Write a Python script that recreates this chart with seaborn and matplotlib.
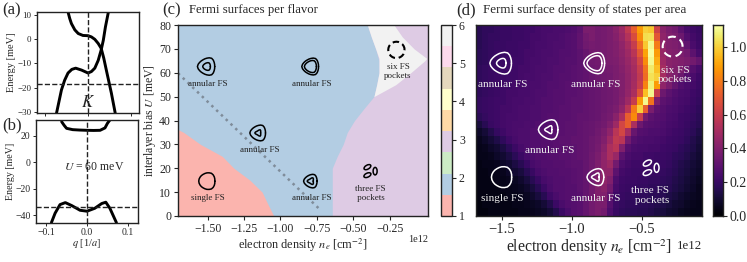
import numpy as np
import pandas as pd
import matplotlib
matplotlib.use("Agg")
import matplotlib.pyplot as plt
import matplotlib.patches as mp
from matplotlib.cm import ScalarMappable
from matplotlib.colors import ListedColormap, Normalize
import seaborn as sns

# -----------------------------------------------------------------------
# band structures, panels a and b
q_a_up = [-0.047, -0.043, -0.039, -0.031, -0.023, -0.012, 0, 0.008, 0.016, 0.024, 0.031, 0.037, 0.043, 0.055, 0.064]
E_a_up = [11.2, 8.5, 6.4, 3.8, 2.3, 1.5, 1.4, 0.9, -0.1, -1.8, -3.8, -7.8, -12.7, -22.3, -30.5]
q_a_low = [-0.074, -0.0625, -0.055, -0.047, -0.038, -0.029, -0.015, 0, 0.008, 0.016, 0.024, 0.031, 0.036, 0.041, 0.048]
E_a_low = [-30.5, -21, -17, -14, -12.5, -12, -12.8, -14, -13.4, -12, -8.8, -4.5, -0.5, 5, 11.2]
q_b_up = [-0.062, -0.056, -0.05, -0.035, -0.018, 0, 0.016, 0.032, 0.044, 0.05, 0.056]
E_b_up = [30.7, 28, 25.7, 24.7, 24.4, 24.2, 24.1, 24.2, 26, 29.5, 32]
q_b_low = [-0.087, -0.078, -0.066, -0.053, -0.037, -0.017, 0, 0.019, 0.036, 0.046, 0.056, 0.072]
E_b_low = [-45.6, -38.5, -32, -30.5, -32.8, -36.3, -37, -34.8, -31.2, -30.2, -34.8, -45.7]

# region edges of panel c, density in 1e12 cm^-2 for each bias U
U_red = [0, 5, 10, 15, 20, 25, 30, 35, 36.2]
ne_red = [-1.046, -1.087, -1.126, -1.21, -1.32, -1.40, -1.55, -1.665, -1.704]
U_blue = [0, 5, 10, 15, 20, 25, 30, 35, 40, 45, 50, 55, 60, 65, 70, 75, 80]
ne_blue = [-0.644, -0.644, -0.644, -0.644, -0.644, -0.610, -0.569, -0.541, -0.491, -0.426, -0.358,
           -0.339, -0.323, -0.323, -0.346, -0.376, -0.403]
U_six = [50, 55, 60, 65, 66, 70, 75, 80]
ne_six_left = [-0.358, -0.339, -0.323, -0.323, -0.323, -0.346, -0.376, -0.403]
ne_six_right = [-0.358, -0.208, -0.105, -0.009, 0.005, -0.082, -0.163, -0.22]
ne_dots = [-1.704, -0.725]
U_dots = [59.8, 2.5]

# panel d, density of states x100, top row is U=80
dos_rows = [
    [16,18,18,19,20,20,21,21,22,22,23,24,24,25,25,26,27,30,38,38,36,37,38,42,48,58,72,88,100,98,62,42,38,36,30,24,22,20],
    [16,18,19,19,20,20,21,21,22,23,23,24,25,25,26,27,28,31,36,38,36,37,38,41,46,54,66,84,103,104,70,44,40,38,34,27,23,21],
    [16,18,19,20,20,21,21,22,22,23,24,24,25,26,26,27,28,31,35,37,36,37,38,40,44,50,60,76,98,110,80,44,40,39,37,31,25,22],
    [17,18,19,20,20,21,21,22,23,23,24,25,25,26,27,27,28,30,33,36,36,37,38,40,43,48,56,70,90,112,88,46,41,40,38,36,30,24],
    [17,18,19,20,21,21,22,22,23,24,24,25,26,26,27,28,28,30,32,35,36,37,38,39,42,46,52,64,84,110,92,48,42,41,40,38,36,32],
    [18,19,20,20,21,22,22,23,23,24,25,25,26,27,27,28,29,30,31,34,35,36,37,38,41,45,50,60,78,106,96,50,42,40,38,34,28,24],
    [18,19,20,21,21,22,22,23,24,24,25,26,26,27,28,28,29,30,31,33,34,35,36,38,40,44,49,58,76,104,100,50,42,39,34,28,25,22],
    [18,19,20,21,22,22,23,23,24,25,25,26,27,27,28,29,29,30,31,32,33,34,36,37,40,44,50,60,82,108,88,44,38,32,27,25,23,21],
    [18,19,20,21,22,23,23,24,24,25,26,26,27,28,28,29,29,30,31,32,33,34,35,37,40,45,52,68,96,110,60,34,30,27,25,24,22,20],
    [19,20,21,22,22,23,24,24,25,25,26,27,27,28,28,29,30,30,31,32,33,34,35,37,41,48,60,88,110,78,38,30,28,26,24,23,21,19],
    [19,20,21,22,23,23,24,25,25,26,26,27,27,28,29,29,30,30,31,32,33,34,36,38,44,56,80,100,72,38,30,28,26,25,23,22,20,18],
    [17,19,21,22,23,24,24,25,25,26,26,27,28,28,29,29,30,31,31,32,33,35,37,42,52,72,84,60,36,30,28,27,25,24,22,21,19,17],
    [12,16,20,22,23,24,25,25,26,26,27,27,28,28,29,30,30,31,32,33,34,36,40,48,64,72,52,34,29,28,27,26,24,23,22,20,18,16],
    [8,11,15,19,22,24,25,26,26,27,27,28,28,29,29,30,30,31,32,33,35,38,44,56,64,50,33,28,27,26,26,25,23,22,21,19,17,14],
    [6,8,11,14,18,22,24,26,26,27,27,28,28,29,30,30,31,31,32,34,36,40,48,58,56,36,28,26,25,25,24,23,22,21,20,18,15,12],
    [5,6,8,10,13,17,21,24,26,27,27,28,28,29,29,30,30,31,32,34,37,42,52,56,40,28,25,24,24,23,23,22,21,20,18,16,14,11],
    [5,5,6,8,10,13,17,21,24,26,27,27,28,28,29,29,30,31,32,35,38,44,52,46,30,25,23,23,22,22,21,21,20,18,17,15,12,10],
    [4,5,5,6,8,10,13,16,20,24,26,27,27,28,28,29,30,30,32,35,39,44,48,36,26,23,22,22,21,21,20,20,19,17,15,13,11,9],
    [4,4,5,5,6,8,10,12,16,20,24,26,27,27,28,28,29,30,32,35,39,44,44,30,23,22,21,21,21,20,20,19,18,16,14,12,10,8],
    [4,4,4,5,5,6,7,9,12,16,20,24,26,27,27,28,29,30,32,35,40,44,40,26,22,21,21,20,20,19,19,18,17,15,13,11,9,7],
    [4,4,4,4,5,5,6,7,9,12,16,21,25,27,27,28,28,30,32,36,40,42,36,24,21,20,20,19,19,18,18,17,16,14,12,10,8,6],
    [4,4,4,4,4,5,5,6,7,9,12,16,22,25,27,28,28,29,32,36,40,40,32,22,20,19,19,18,18,17,17,16,14,12,10,8,7,6],
    [3,4,4,4,4,4,5,5,6,7,8,11,15,21,25,27,28,29,32,36,38,38,28,21,19,18,18,17,17,16,15,14,12,10,9,7,6,5],
    [3,3,4,4,4,4,4,5,5,6,7,8,11,15,21,25,28,29,32,36,38,36,26,20,18,17,17,16,16,15,13,12,10,9,7,6,5,5],
]

# fermi surface outlines, radius in px every 15 degrees, corner of the triangle points left
fs_angle = [0, 15, 30, 45, 60, 75, 90, 105, 120, 135, 150, 165, 180, 195, 210, 225, 240, 255, 270, 285, 300, 315, 330, 345]
fs_soft = [0.82, 0.84, 0.88, 0.95, 1.0, 0.95, 0.88, 0.84, 0.82, 0.84, 0.88, 0.95,
           1.0, 0.95, 0.88, 0.84, 0.82, 0.84, 0.88, 0.95, 1.0, 0.95, 0.88, 0.84]
fs_single = [0.92, 0.95, 0.99, 1.03, 1.05, 1.0, 0.96, 0.92, 0.9, 0.91, 0.92, 0.94,
             0.95, 0.94, 0.92, 0.91, 0.9, 0.92, 0.96, 1.0, 1.05, 1.03, 0.99, 0.95]
fs_sharp = [0.6, 0.63, 0.72, 0.88, 1.0, 0.88, 0.72, 0.63, 0.6, 0.63, 0.72, 0.88,
            1.0, 0.88, 0.72, 0.63, 0.6, 0.63, 0.72, 0.88, 1.0, 0.88, 0.72, 0.63]
fs_circle = [1] * 24
pocket_x = [-2.4, -2.4, 5.3]
pocket_y = [4.0, -4.0, 0.0]
pocket_w = [7.5, 7.5, 7.5]
pocket_h = [4.0, 4.0, 4.0]
pocket_a = [30, 25, 90]

# axes fraction of the icons and text, shared by panels c and d
annular_outer = [9.5, 9.2, 8.6, 7.4]
annular_inner = [4.2, 6.6, 3.6, 3.8]
tick_cbar_c = [1, 2, 3, 4, 5, 6]
tick_cbar_d = [0.0, 0.2, 0.4, 0.6, 0.8, 1.0]

W, H = 747.0, 262.0


def px_box(l, t, r, b):
    return [l / W, 1 - b / H, (r - l) / W, (b - t) / H]


def draw_fs(ax, fx, fy, radii, scale, color, lw=1.1, **kw):
    # small axes on top, its units are pixels
    box = ax.get_position()
    w_px, h_px = box.width * W, box.height * H
    size = 40.0
    ins = ax.inset_axes([fx - size / 2 / w_px, fy - size / 2 / h_px, size / w_px, size / h_px])
    ins.set_xlim(-20, 20)
    ins.set_ylim(-20, 20)
    ins.axis("off")
    ins.patch.set_alpha(0)
    if radii is None:
        for x, y, w, h, a in zip(pocket_x, pocket_y, pocket_w, pocket_h, pocket_a):
            ins.add_patch(mp.Ellipse((x * scale, y * scale), w * scale, h * scale, angle=a,
                                     fill=False, edgecolor=color, lw=lw))
        return
    th = np.radians(fs_angle + [360])
    rr = np.array(list(radii) + [radii[0]]) * scale
    ins.plot(rr * np.cos(th), rr * np.sin(th), color=color, lw=lw, **kw)


sns.set_style("ticks")
plt.rcParams["font.family"] = ["Liberation Serif", "DejaVu Serif"]
plt.rcParams["mathtext.fontset"] = "stix"
plt.rcParams["axes.edgecolor"] = "#222222"
plt.rcParams["axes.linewidth"] = 1.0

fig = plt.figure(figsize=(W / 100, H / 100), dpi=100)

# ---------------------------------------------------------------- a
ax_a = fig.add_axes(px_box(37, 11.7, 139, 113))
sns.lineplot(x=q_a_up, y=E_a_up, ax=ax_a, color="black", lw=2.1, sort=False, estimator=None)
sns.lineplot(x=q_a_low, y=E_a_low, ax=ax_a, color="black", lw=2.1, sort=False, estimator=None)
ax_a.axhline(-18.6, color="#222222", lw=1.0, ls="--")
ax_a.axvline(0, color="#222222", lw=1.0, ls="--")
ax_a.set_xlim(-0.12, 0.12)
ax_a.set_ylim(-30.5, 11.3)
ax_a.set_xticks([-0.1, 0.0, 0.1])
ax_a.set_xticklabels([])
ax_a.set_yticks([-30, -20, -10, 0, 10])
ax_a.tick_params(labelsize=6.5, length=2.5, width=0.7, pad=1.5)
ax_a.set_ylabel("Energy [meV]", fontsize=7.5, labelpad=1)
ax_a.text(0, -26.3, "$K$", fontsize=12, ha="center", va="center")

# ---------------------------------------------------------------- b
ax_b = fig.add_axes(px_box(36.3, 120, 137.7, 222.7))
sns.lineplot(x=q_b_up, y=E_b_up, ax=ax_b, color="black", lw=2.1, sort=False, estimator=None)
sns.lineplot(x=q_b_low, y=E_b_low, ax=ax_b, color="black", lw=2.1, sort=False, estimator=None)
ax_b.axhline(-33.5, color="#222222", lw=1.0, ls="--")
ax_b.axvline(0, color="#222222", lw=1.0, ls="--")
ax_b.set_xlim(-0.124, 0.124)
ax_b.set_ylim(-45.7, 32)
ax_b.set_xticks([-0.1, 0.0, 0.1])
ax_b.set_yticks([-40, -20, 0, 20])
ax_b.tick_params(labelsize=7, length=2.5, width=0.7, pad=1.5)
ax_b.set_xlabel("$q$ [1/$a$]", fontsize=7.5, labelpad=0)
ax_b.set_ylabel("Energy [meV]", fontsize=7.2, labelpad=0.5)
ax_b.text(0.018, -3.6, "$U$ = 60 meV", fontsize=8.5, ha="center", va="center")

# ---------------------------------------------------------------- c
pal = sns.color_palette("Pastel1", 9)
ax_c = fig.add_axes(px_box(178, 25, 428, 216))
ax_c.set_facecolor(pal[3])
ax_c.fill_betweenx(U_blue, -1.704, ne_blue, color=pal[1], lw=0)
ax_c.fill_betweenx(U_red, -1.704, ne_red, color=pal[0], lw=0)
ax_c.fill_betweenx(U_six, ne_six_left, ne_six_right, color=pal[8], lw=0)
sns.lineplot(x=ne_dots, y=U_dots, ax=ax_c, color="#7f8c9a", lw=1.8, ls=":", sort=False, estimator=None)
ax_c.set_xlim(-1.704, 0.0136)
ax_c.set_ylim(0, 80)
ax_c.set_xticks([-1.5, -1.25, -1.0, -0.75, -0.5, -0.25])
ax_c.set_xticklabels(["\u22121.50", "\u22121.25", "\u22121.00", "\u22120.75", "\u22120.50", "\u22120.25"])
ax_c.set_yticks(range(0, 81, 10))
ax_c.tick_params(labelsize=8.5, length=3, width=0.8, pad=2)
ax_c.set_xlabel("electron density $n_e$ [cm$^{-2}$]", fontsize=8.8, labelpad=1.5)
ax_c.set_ylabel("interlayer bias $U$ [meV]", fontsize=8.5, labelpad=1)

cax_c = fig.add_axes(px_box(441, 25, 452, 216))
cb_c = fig.colorbar(ScalarMappable(Normalize(1, 6), ListedColormap(pal)), cax=cax_c, ticks=tick_cbar_c)
cb_c.ax.tick_params(labelsize=8.5, length=3, width=0.8, pad=2)

# ---------------------------------------------------------------- d
ne_left, ne_right = -1.683, -0.071
ax_d = fig.add_axes(px_box(476, 25, 702, 216))
cax_d = fig.add_axes(px_box(713, 25, 723, 216))
dos = pd.DataFrame(dos_rows) / 100.0
sns.heatmap(dos, ax=ax_d, cbar_ax=cax_d, cmap="inferno", vmin=0, vmax=1.13, xticklabels=False, yticklabels=False,
            cbar_kws={"ticks": tick_cbar_d})
for s in ax_d.spines.values():
    s.set_visible(True)
ax_d.set_xticks([(v - ne_left) / (ne_right - ne_left) * dos.shape[1] for v in [-1.5, -1.0, -0.5]])
ax_d.set_xticklabels(["\u22121.5", "\u22121.0", "\u22120.5"])
ax_d.tick_params(labelsize=10.5, length=3, width=0.8, pad=2)
ax_d.set_xlabel("electron density $n_e$ [cm$^{-2}$]", fontsize=11.3, labelpad=1)
cax_d.tick_params(labelsize=10, length=3, width=0.8, pad=2)
for s in cax_d.spines.values():
    s.set_visible(True)

# ---------------------------------------------------------------- icons and their labels
# centre px of the zoomed axes, 752x575 for c and 677x575 for d
c_xy = [(87, 450), (400, 450), (242, 250), (400, 105)]
d_xy = [(77, 460), (357, 460), (219, 260), (360, 117)]
for k in range(4):
    fx, fy = c_xy[k][0] / 752, c_xy[k][1] / 575
    draw_fs(ax_c, fx, fy, fs_soft, annular_outer[k], "black")
    draw_fs(ax_c, fx, fy, fs_soft if k < 2 else fs_sharp, annular_inner[k], "black")
    fx, fy = d_xy[k][0] / 677, d_xy[k][1] / 575
    draw_fs(ax_d, fx, fy, fs_soft, annular_outer[k] * 1.25, "white")
    draw_fs(ax_d, fx, fy, fs_soft if k < 2 else fs_sharp, annular_inner[k] * 1.25, "white")
draw_fs(ax_c, 87 / 752, 105 / 575, fs_single, 8.6, "black")
draw_fs(ax_d, 77 / 677, 117 / 575, fs_single, 10.8, "white")
draw_fs(ax_c, 657 / 752, 500 / 575, fs_circle, 8.2, "black", lw=1.5, ls=(0, (3.1, 1.8)))
draw_fs(ax_d, 589 / 677, 510 / 575, fs_circle, 10, "white", lw=1.5, ls=(0, (3.8, 2.2)))
draw_fs(ax_c, 577 / 752, 135 / 575, None, 1.0, "black", lw=1.1)
draw_fs(ax_d, 522 / 677, 145 / 575, None, 1.2, "white", lw=1.1)

labels_c = [("annular FS", 89, 398), ("annular FS", 401, 398), ("annular FS", 245, 200),
            ("annular FS", 401, 53), ("single FS", 89, 53), ("six FS\npockets", 662, 435),
            ("three FS\n pockets", 577, 68)]
labels_d = [("annular FS", 80, 395), ("annular FS", 360, 395), ("annular FS", 220, 197),
            ("annular FS", 360, 52), ("single FS", 80, 52), ("six FS\npockets", 597, 425),
            ("three FS\n pockets", 522, 62)]
for t, x, y in labels_c:
    ax_c.text(x / 752, y / 575, t, transform=ax_c.transAxes, fontsize=6.5, ha="center", va="center",
              color="#222222", linespacing=1.05)
for t, x, y in labels_d:
    ax_d.text(x / 677, y / 575, t, transform=ax_d.transAxes, fontsize=8.1, ha="center", va="center",
              color="#eeeeee", linespacing=1.05)

# ---------------------------------------------------------------- figure texts
fig.text(2 / W, 1 - 10 / H, "(a)", fontsize=12, va="center")
fig.text(2 / W, 1 - 125 / H, "(b)", fontsize=12, va="center")
fig.text(162 / W, 1 - 10 / H, "(c)", fontsize=12, va="center")
fig.text(456 / W, 1 - 10 / H, "(d)", fontsize=12, va="center")
fig.text(189 / W, 1 - 10 / H, "Fermi surfaces per flavor", fontsize=9.2, va="center")
fig.text(483 / W, 1 - 10 / H, "Fermi surface density of states per area", fontsize=9.4, va="center")
fig.text(428 / W, 1 - 240 / H, "1e12", fontsize=7.5, va="center", ha="right")
fig.text(702 / W, 1 - 246 / H, "1e12", fontsize=9.3, va="center", ha="right")

fig.savefig("out.png", dpi=100)
